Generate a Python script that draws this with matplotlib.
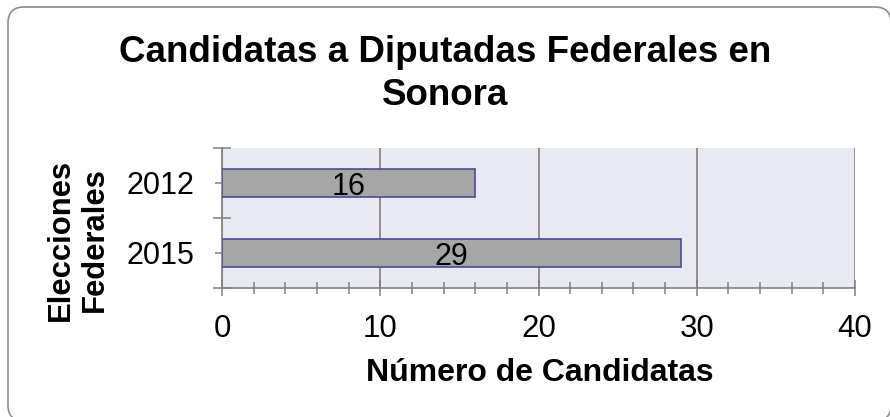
"""Bar chart: candidatas a diputadas federales en Sonora."""

import matplotlib

matplotlib.use("Agg")
import matplotlib.pyplot as plt
from matplotlib.patches import FancyBboxPatch
from matplotlib.ticker import MultipleLocator

plt.rcParams["font.family"] = ["Liberation Sans", "DejaVu Sans"]

# data
years = ["2012", "2015"]
candidatas = [16, 29]

title = "Candidatas a Diputadas Federales en\nSonora"
ylabel = "Elecciones\nFederales"
xlabel = "Número de Candidatas"

GRAY = "#808080"

fig = plt.figure(figsize=(8.9, 4.17), dpi=100)

# rounded outer frame (pixel coords)
frame = FancyBboxPatch(
    (8, -4), 883, 414,
    boxstyle="round,pad=0,rounding_size=16",
    transform=None, facecolor="none", edgecolor="#8c8c8c", linewidth=1.2,
    zorder=0,
)
fig.patches.append(frame)

ax = fig.add_axes([222 / 890, 1 - 288 / 417, 633 / 890, 140 / 417])
ax.set_facecolor("#e9e9f3")

pos = list(range(len(years)))
bars = ax.barh(pos, candidatas, height=0.41, color="#a6a6a6",
               edgecolor="#4b4b96", linewidth=1.2, zorder=3)
for b, v in zip(bars, candidatas):
    ax.text(v / 2, b.get_y() + b.get_height() / 2 + 0.06, str(v),
            ha="center", va="center", fontsize=22, zorder=4)

ax.set_ylim(len(years) - 0.5, -0.5)
ax.set_xlim(0, 40)
ax.set_yticks(pos)
ax.set_yticklabels(years)
ax.set_yticks([-0.5, 0.5, 1.5], minor=True)
ax.xaxis.set_major_locator(MultipleLocator(10))
ax.xaxis.set_minor_locator(MultipleLocator(2))

ax.grid(axis="x", which="major", color=GRAY, linewidth=1.2, zorder=1)
ax.set_axisbelow(True)
for side in ["top", "right"]:
    ax.spines[side].set_visible(False)
for side in ["left", "bottom"]:
    ax.spines[side].set_color(GRAY)
    ax.spines[side].set_linewidth(1.2)

ax.tick_params(axis="x", which="major", direction="inout", length=12,
               width=1.1, color=GRAY, labelsize=22.5, pad=13)
ax.tick_params(axis="x", which="minor", direction="inout", length=9,
               width=1.1, color=GRAY)
ax.tick_params(axis="y", which="major", direction="out", length=5,
               width=1.1, color=GRAY, labelsize=22, pad=15)
ax.tick_params(axis="y", which="minor", direction="inout", length=13.5,
               width=1.1, color=GRAY)

fig.text(0.5, 1 - 74 / 417, title, ha="center", va="center",
         fontsize=26.5, fontweight="bold", linespacing=1.32)
fig.text(78 / 890, 1 - 240 / 417, ylabel, ha="center", va="center",
         rotation=90, fontsize=22.3, fontweight="bold", linespacing=1.15)
fig.text(540 / 890, 1 - 373 / 417, xlabel, ha="center", va="center",
         fontsize=23, fontweight="bold")

fig.savefig("out.png", dpi=100)
